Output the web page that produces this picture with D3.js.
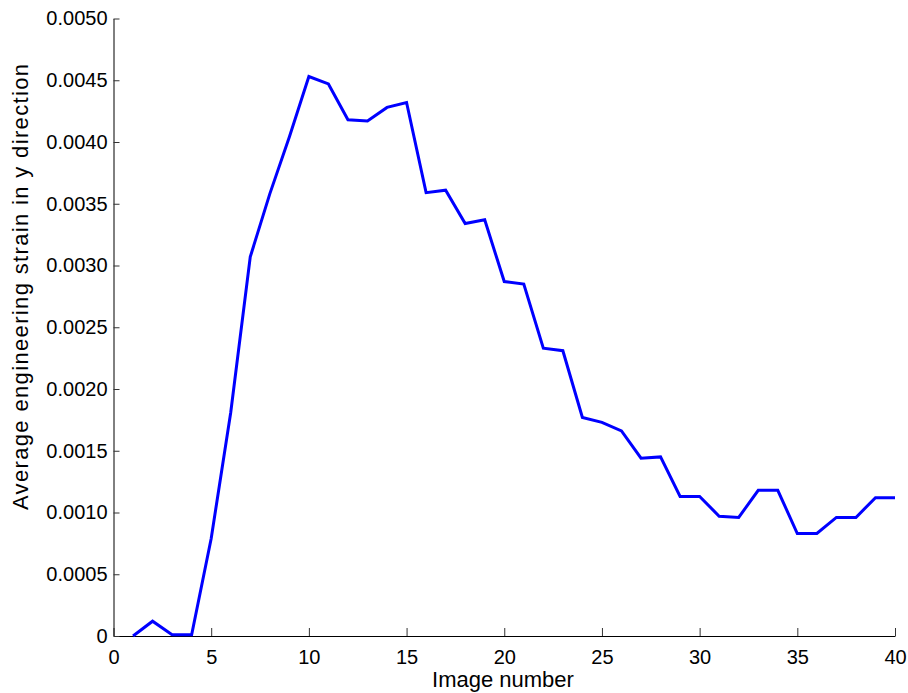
<!DOCTYPE html>
<html>
<head>
<meta charset="utf-8">
<script src="https://cdn.jsdelivr.net/npm/d3@7/dist/d3.min.js"></script>
<style>
  html, body { margin: 0; padding: 0; background: #fff; }
  svg { display: block; }
  text { font-family: "Liberation Sans", Arial, Helvetica, sans-serif; fill: #000; }
</style>
</head>
<body>
<svg id="chart" width="908" height="693"></svg>
<script>
// Image index along the sequence
const imageNumbers = d3.range(1, 41);
// Mean engineering strain in the y direction for each image
const strainY = [
  0.00000, 0.00012, 0.00001, 0.00001, 0.00079, 0.00181, 0.00307, 0.00358, 0.00404, 0.00453,
  0.00447, 0.00418, 0.00417, 0.00428, 0.00432, 0.00359, 0.00361, 0.00334, 0.00337, 0.00287,
  0.00285, 0.00233, 0.00231, 0.00177, 0.00173, 0.00166, 0.00144, 0.00145, 0.00113, 0.00113,
  0.00097, 0.00096, 0.00118, 0.00118, 0.00083, 0.00083, 0.00096, 0.00096, 0.00112, 0.00112
];
const xTicks = [0, 5, 10, 15, 20, 25, 30, 35, 40];
const yTicks = [0, 0.0005, 0.0010, 0.0015, 0.0020, 0.0025, 0.0030, 0.0035, 0.0040, 0.0045, 0.0050];
const xLabel = "Image number";
const yLabel = "Average engineering strain in y direction";

const svg = d3.select("#chart");
const margin = { left: 113.5, right: 13, top: 18.5, bottom: 57 };
const W = 908, H = 693;

const x = d3.scaleLinear().domain([0, 40]).range([margin.left, W - margin.right]);
const y = d3.scaleLinear().domain([0, 0.005]).range([H - margin.bottom, margin.top]);

// Bottom axis, ticks pointing into the plot
const gx = svg.append("g")
  .attr("transform", `translate(0,${y(0)})`)
  .call(d3.axisBottom(x).tickValues(xTicks).tickFormat(d3.format("d"))
    .tickSizeInner(-8).tickSizeOuter(0).tickPadding(14));
gx.select(".domain").attr("stroke", "#000").attr("stroke-width", 1);
gx.selectAll(".tick line").attr("stroke", "#333");
gx.selectAll(".tick text").attr("font-size", 20).attr("dy", "0.71em")
  .attr("font-family", "Liberation Sans, Arial, sans-serif");

// Left axis
const gy = svg.append("g")
  .attr("transform", `translate(${x(0)},0)`)
  .call(d3.axisLeft(y).tickValues(yTicks)
    .tickFormat(d => d === 0 ? "0" : d3.format(".4f")(d))
    .tickSizeInner(-6).tickSizeOuter(0).tickPadding(6));
gy.select(".domain").attr("stroke", "#000").attr("stroke-width", 1);
gy.selectAll(".tick line").attr("stroke", "#333");
gy.selectAll(".tick text").attr("font-size", 20)
  .attr("font-family", "Liberation Sans, Arial, sans-serif");

// Strain curve
const line = d3.line()
  .x((d, i) => x(imageNumbers[i]))
  .y(d => y(d));

svg.append("path")
  .datum(strainY)
  .attr("fill", "none")
  .attr("stroke", "#0000ff")
  .attr("stroke-width", 3)
  .attr("stroke-linejoin", "miter")
  .attr("d", line);

// Axis titles
svg.append("text")
  .attr("x", 503)
  .attr("y", 687)
  .attr("text-anchor", "middle")
  .attr("font-size", 22)
  .text(xLabel);

svg.append("text")
  .attr("transform", `translate(28,${510}) rotate(-90)`)
  .attr("font-size", 22)
  .attr("textLength", 446)
  .attr("lengthAdjust", "spacing")
  .text(yLabel);
</script>
</body>
</html>
